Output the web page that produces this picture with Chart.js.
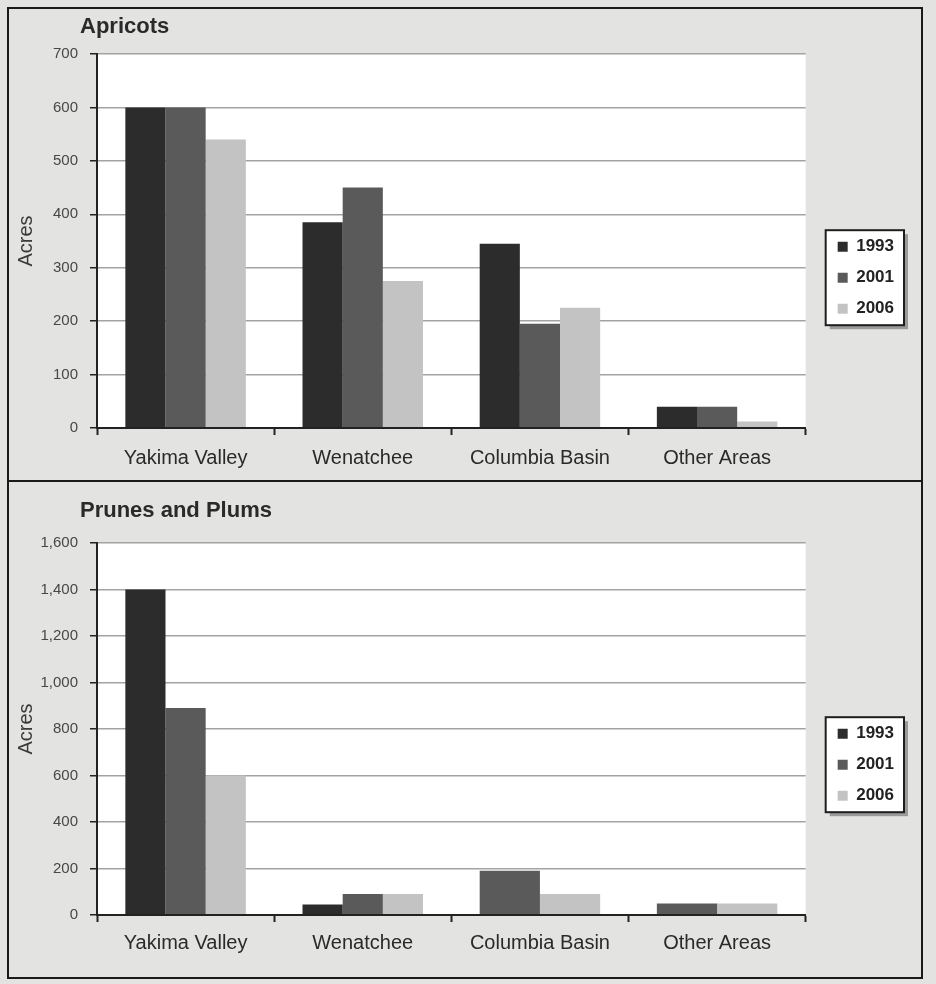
<!DOCTYPE html>
<html>
<head>
<meta charset="utf-8">
<title>Apricots / Prunes and Plums acreage</title>
<script src="https://cdn.jsdelivr.net/npm/chart.js@4.4.1/dist/chart.umd.min.js"></script>
<style>
  html, body { margin: 0; padding: 0; }
  body {
    width: 936px; height: 984px; overflow: hidden; position: relative;
    background: #e3e3e1;
  }
  .panel {
    position: absolute; left: 7px; width: 916px;
    box-sizing: border-box; border: 2px solid #1a1a1a;
  }
  #panelTop { top: 7px; height: 475px; }
  #panelBottom { top: 480px; height: 499px; }
  canvas { display: block; }
</style>
</head>
<body>
<div class="panel" id="panelTop"><canvas id="apricotsChart" width="912" height="471"></canvas></div>
<div class="panel" id="panelBottom"><canvas id="prunesChart" width="912" height="495"></canvas></div>

<script>
// values (acres)
const regions = ['Yakima Valley', 'Wenatchee', 'Columbia Basin', 'Other Areas'];
const years = ['1993', '2001', '2006'];

const apricots1993 = [600, 385, 345, 40];
const apricots2001 = [600, 450, 195, 40];
const apricots2006 = [540, 275, 225, 12];

// no 1993 bar shown for Columbia Basin / Other Areas
const prunes1993 = [1400, 45, null, null];
const prunes2001 = [890, 90, 190, 50];
const prunes2006 = [600, 90, 90, 50];

const apricotTicks = [0, 100, 200, 300, 400, 500, 600, 700];
const prunesTicks = [0, 200, 400, 600, 800, 1000, 1200, 1400, 1600];

const yearColors = ['#2c2c2c', '#5a5a5a', '#c3c3c3'];

Chart.defaults.font.family = "'Liberation Sans', Arial, sans-serif";

// white plot area + framed legend, drawn before the scales / legend
const panelBackdrop = {
  id: 'panelBackdrop',
  beforeDraw(chart) {
    const ctx = chart.ctx;
    const a = chart.chartArea;
    ctx.save();
    ctx.fillStyle = '#ffffff';
    ctx.fillRect(a.left, a.top, a.right - a.left, a.bottom - a.top);

    const boxes = chart.legend && chart.legend.legendHitBoxes;
    if (boxes && boxes.length) {
      const first = boxes[0], last = boxes[boxes.length - 1];
      const left = first.left - 12;
      const right = Math.max(...boxes.map(b => b.left + b.width)) + 10;
      const top = first.top - 8;
      const bottom = last.top + last.height + 8;
      ctx.fillStyle = '#9a9a9a';
      ctx.fillRect(left + 4, top + 4, right - left, bottom - top);
      ctx.fillStyle = '#ffffff';
      ctx.fillRect(left, top, right - left, bottom - top);
      ctx.strokeStyle = '#1e1e1e';
      ctx.lineWidth = 2;
      ctx.strokeRect(left, top, right - left, bottom - top);
    }
    ctx.restore();
  },
  afterLayout(chart) {
    // the panel title sits a little left of the plot area
    if (chart.titleBlock) chart.titleBlock.left = chart.chartArea.left - 17;
  }
};

function buildChart(canvasId, title, series, tickValues, pad) {
  const datasets = series.map((values, i) => ({
    label: years[i],
    data: values,
    backgroundColor: yearColors[i],
    borderWidth: 0
  }));

  return new Chart(document.getElementById(canvasId), {
    type: 'bar',
    data: { labels: regions, datasets },
    plugins: [panelBackdrop],
    options: {
      responsive: false,
      animation: false,
      skipNull: true,
      categoryPercentage: 0.68,
      barPercentage: 1.0,
      layout: { padding: { left: 0, right: 17, top: 0, bottom: 0 } },
      plugins: {
        tooltip: { enabled: false },
        title: {
          display: true,
          text: title,
          align: 'start',
          color: '#2a2a2a',
          font: { size: 22, weight: 'bold' },
          padding: { top: pad.titleTop, bottom: pad.titleBottom }
        },
        legend: {
          position: 'right',
          fullSize: false,
          // blank legend title only nudges the items down
          title: { display: true, text: '', padding: { top: pad.legendShift, bottom: 0 } },
          labels: {
            boxWidth: 10,
            boxHeight: 10,
            padding: 14,
            color: '#222222',
            font: { size: 17, weight: 'bold' }
          }
        }
      },
      scales: {
        x: {
          offset: true,
          afterFit(scale) { scale.height = pad.xHeight; },
          grid: {
            display: true,
            drawOnChartArea: false,
            color: '#222222',
            tickColor: '#222222',
            tickLength: 7,
            tickWidth: 2
          },
          border: { display: true, color: '#222222', width: 2, z: 1 },
          ticks: {
            color: '#2a2a2a',
            font: { size: 20 },
            padding: pad.xLabel,
            maxRotation: 0
          }
        },
        y: {
          min: 0,
          max: tickValues[tickValues.length - 1],
          afterBuildTicks(scale) {
            scale.ticks = tickValues.map(v => ({ value: v }));
          },
          afterFit(scale) { scale.width = 88; },
          grid: {
            color: '#a3a3a3',
            lineWidth: 1.5,
            tickColor: '#222222',
            tickLength: 7,
            tickWidth: 1.5
          },
          border: { display: true, color: '#222222', width: 2, z: 1 },
          ticks: {
            color: '#474747',
            font: { size: 15 },
            padding: 12,
            callback: v => v.toLocaleString('en-US')
          },
          title: {
            display: true,
            text: 'Acres',
            color: '#3a3a3a',
            font: { size: 20 },
            padding: { top: 5, bottom: 0 }
          }
        },
        // empty right-hand axis, only keeps the legend off the plot area
        gap: {
          type: 'linear',
          position: 'right',
          display: true,
          grid: { display: false },
          border: { display: false },
          ticks: { display: false },
          afterFit(scale) { scale.width = 18; }
        }
      }
    }
  });
}

buildChart('apricotsChart', 'Apricots',
  [apricots1993, apricots2001, apricots2006], apricotTicks,
  { titleTop: 5, titleBottom: 13.6, xLabel: 11, xHeight: 52, legendShift: 59 });

buildChart('prunesChart', 'Prunes and Plums',
  [prunes1993, prunes2001, prunes2006], prunesTicks,
  { titleTop: 15.8, titleBottom: 18.8, xLabel: 9, xHeight: 62, legendShift: 57 });
</script>
</body>
</html>
